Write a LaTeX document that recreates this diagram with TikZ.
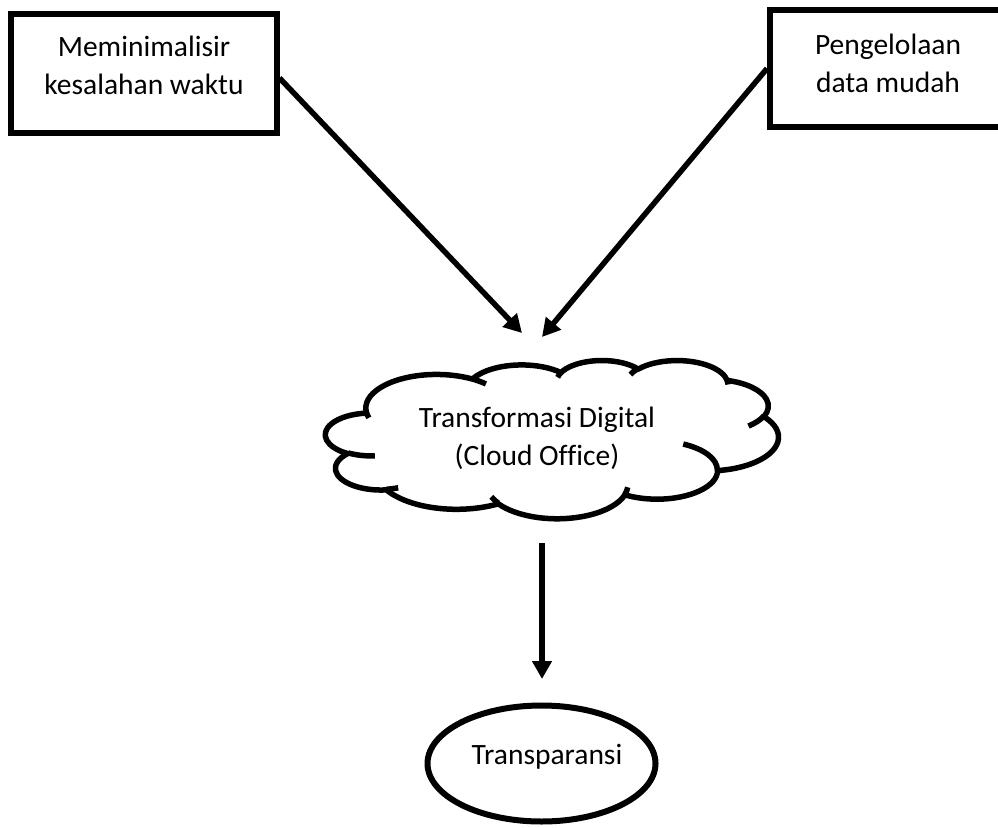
\documentclass[tikz,border=0pt]{standalone}
\usepackage{fontspec}
\setmainfont{Carlito}[Ligatures=NoCommon]
\usetikzlibrary{arrows.meta,shapes.geometric}
\newcommand\csx{1.048}
\newcommand\csy{0.3662}
\newcommand\carc[4]{arc[x radius={#1*\csx pt}, y radius={#2*\csy pt}, start angle={-pa(#1,#2,#3)}, end angle={-pa(#1,#2,#3+#4)}]}
\begin{document}
\begin{tikzpicture}[x=1pt,y=-1pt,
  declare function={pa(\wra,\hra,\tha)=\tha+mod(atan2(\wra*sin(\tha),\hra*cos(\tha))-\tha+540,360)-180;},
  boxnode/.style={draw=black,line width=6pt,rectangle,inner sep=0pt},
  lbl/.style={font=\fontsize{29.5}{38}\selectfont,align=center,inner sep=0pt},
  arr/.style={line width=5.5pt,-{Triangle[length=18pt,width=19pt]}},
  cloudline/.style={line width=5.5pt,line join=round,draw=black}]
\useasboundingbox (0,0) rectangle (998,827);

% top boxes
\node[boxnode, minimum width=266pt, minimum height=119pt] (b1) at (143.5,73.5) {};
\node[lbl] (t1) at (144,68) {\strut Meminimalisir\\\strut kesalahan waktu};
\node[boxnode, minimum width=236pt, minimum height=117pt] (b2) at (888,68.5) {};
\node[lbl] (t2) at (888,66) {\strut Pengelolaan\\\strut data mudah};

% cloud
\begin{scope}[shift={(325.6,360)}, x=\csx pt, y=-\csy pt]
\draw[cloudline, fill=white] (39.00,143.70)
  \carc{67.53}{91.90}{-190.4875}{123.7805}
  \carc{53.33}{72.67}{-144.1024}{89.9452}
  \carc{43.65}{59.45}{-145.8079}{99.7230}
  \carc{48.57}{65.95}{-130.9861}{117.2417}
  \carc{53.33}{72.73}{-78.7089}{109.0269}
  \carc{67.75}{92.20}{-46.2673}{130.2690}
  \carc{57.85}{78.67}{0.6250}{114.0333}
  \carc{67.52}{92.15}{22.4516}{115.1726}
  \carc{77.20}{105.43}{66.2426}{75.7110}
  \carc{43.60}{59.18}{-274.9421}{146.7356}
  \carc{43.45}{59.45}{-246.8285}{152.5189}
  -- cycle;
\draw[cloudline]
  (46.93,261.77) \carc{43.45}{59.45}{86.7420}{26.4295}
  (69.28,348.99) \carc{43.60}{59.18}{73.6105}{11.4475}
  (164.78,390.90) \carc{67.52}{92.15}{137.6242}{14.0811}
  (288.27,347.51) \carc{67.52}{92.15}{6.4533}{15.9984}
  (341.29,229.54) \carc{57.85}{78.67}{-70.2924}{70.9174}
  (417.98,153.54) \carc{53.33}{72.73}{30.3180}{27.7515}
  (383.24,54.26) \carc{48.57}{65.95}{-13.7443}{14.8589}
  (290.78,39.52) \carc{48.57}{65.95}{-149.1815}{18.1954}
  (221.41,47.20) \carc{43.65}{59.45}{-163.4943}{17.6864}
  (140.00,51.92) \carc{67.53}{91.90}{-66.7070}{12.3194}
  (41.27,157.89) \carc{67.53}{91.90}{157.6544}{11.8582};
\end{scope}
\node[lbl] (cloud) at (537,439) {\strut Transformasi Digital\\\strut (Cloud Office)};

% bottom ellipse
\node[draw=black, line width=6pt, ellipse, minimum width=228pt, minimum height=116pt, inner sep=0pt] (el) at (541.5,763.5) {};
\node[lbl] (et) at (547,757) {\strut Transparansi};

% connectors
\coordinate (h1) at (522,333);
\coordinate (h2) at (542,337);
\coordinate (d0) at (542,543);
\coordinate (d1) at (542,679);
\draw[arr] ([yshift=-4.5pt]b1.east) -- (h1);
\draw[arr] (b2.west) -- (h2);
\draw[arr] (d0) -- (d1);
\end{tikzpicture}
\end{document}
